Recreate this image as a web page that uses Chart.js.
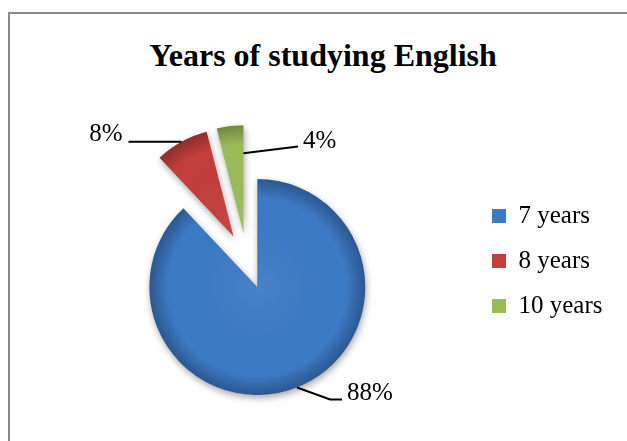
<!DOCTYPE html>
<html lang="en">
<head>
  <meta charset="UTF-8">
  <title>Years of studying English</title>
  <script src="https://cdn.jsdelivr.net/npm/chart.js"></script>
  <style>
    html, body {
      margin: 0;
      padding: 0;
      background: #fff;
      overflow: hidden;
    }
    body {
      width: 627px;
      height: 441px;
      position: relative;
      font-family: 'Liberation Serif', 'Times New Roman', serif;
    }
    .frame {
      position: absolute;
      left: 8px;
      top: 12px;
      width: 700px;
      height: 500px;
      border-left: 2px solid #8a8a8a;
      border-top: 2px solid #8a8a8a;
    }
    h1 {
      position: absolute;
      left: 0;
      top: 39px;
      width: 646px;
      margin: 0;
      font-size: 32px;
      line-height: 32px;
      font-weight: bold;
      text-align: center;
      color: #000;
    }
    canvas {
      position: absolute;
      left: 0;
      top: 0;
    }
  </style>
</head>
<body>

  <div class="frame"></div>
  <h1>Years of studying English</h1>
  <canvas id="chart" width="627" height="441"></canvas>

  <script>
    const categories = ['7 years', '8 years', '10 years'];
    const shares = [88, 8, 4];   // in Prozent

    const sliceColors = ['#3d7ac5', '#c23f3c', '#9bbb59'];
    const explode = [28, 28, 28];   // Abstand vom Mittelpunkt (px)

    // Leader lines + Beschriftung je Stück
    const leaders = [
      { anchor: 'mid', at: 1,    path: [[33, 12], [12, 0]], text: [5, -6], align: 'left' },
      { anchor: 'mid', at: 1,    path: [[-53, 0]],          text: [-6, -7], align: 'right' },
      { anchor: 'end', at: 0.74, path: [[54.5, -6.7]],      text: [5, -5], align: 'left' }
    ];

    const serif = "'Liberation Serif', 'Times New Roman', serif";

    // alle Stücke nach außen schieben (wie Excel "explosion")
    const explodePlugin = {
      id: 'explode',
      afterDatasetUpdate(chart, args) {
        args.meta.data.forEach((arc, i) => {
          const mid = (arc.startAngle + arc.endAngle) / 2;
          arc.x += Math.cos(mid) * explode[i];
          arc.y += Math.sin(mid) * explode[i];
        });
      }
    };

    const piePaint = {
      id: 'piePaint',
      beforeDatasetsDraw(chart) {
        const ctx = chart.ctx;
        ctx.save();
        ctx.shadowColor = 'rgba(0,0,0,0.35)';
        ctx.shadowBlur = 7;
        ctx.shadowOffsetX = 1;
        ctx.shadowOffsetY = 3;
      },
      afterDatasetsDraw(chart) {
        const ctx = chart.ctx;
        ctx.restore();
        const arcs = chart.getDatasetMeta(0).data;

        arcs.forEach((arc) => {
          const { x, y, startAngle, endAngle, outerRadius } = arc;
          ctx.save();
          ctx.beginPath();
          ctx.moveTo(x, y);
          ctx.arc(x, y, outerRadius, startAngle, endAngle);
          ctx.closePath();
          ctx.clip();
          const g = ctx.createRadialGradient(x, y, 0, x, y, outerRadius);
          g.addColorStop(0, 'rgba(255,255,255,0.06)');
          g.addColorStop(0.82, 'rgba(0,0,0,0)');
          g.addColorStop(1, 'rgba(0,0,0,0.28)');
          ctx.fillStyle = g;
          ctx.fill();
          ctx.restore();
        });

        ctx.save();
        ctx.strokeStyle = '#000';
        ctx.lineWidth = 2;
        ctx.fillStyle = '#000';
        ctx.font = '25px ' + serif;
        ctx.textBaseline = 'middle';
        arcs.forEach((arc, i) => {
          const l = leaders[i];
          const ang = l.anchor === 'end' ? arc.endAngle : (arc.startAngle + arc.endAngle) / 2;
          let px = arc.x + Math.cos(ang) * arc.outerRadius * l.at;
          let py = arc.y + Math.sin(ang) * arc.outerRadius * l.at;
          ctx.beginPath();
          ctx.moveTo(px, py);
          l.path.forEach(([dx, dy]) => {
            px += dx;
            py += dy;
            ctx.lineTo(px, py);
          });
          ctx.stroke();
          ctx.textAlign = l.align;
          ctx.fillText(shares[i] + '%', px + l.text[0], py + l.text[1]);
        });
        ctx.restore();
      }
    };

    new Chart(document.getElementById('chart'), {
      type: 'pie',
      data: {
        labels: categories,
        datasets: [{
          data: shares,
          backgroundColor: sliceColors,
          borderWidth: 0,
          clip: false
        }]
      },
      options: {
        responsive: false,
        animation: false,
        events: [],
        radius: 108,
        layout: { padding: { left: 22, right: 14.5, top: 130, bottom: 49 } },
        plugins: {
          title: { display: false },
          tooltip: { enabled: false },
          legend: {
            position: 'right',
            align: 'center',
            labels: {
              boxWidth: 14,
              boxHeight: 14,
              padding: 20,
              color: '#000',
              font: { size: 25, family: serif }
            }
          }
        }
      },
      plugins: [explodePlugin, piePaint]
    });
  </script>
</body>
</html>
